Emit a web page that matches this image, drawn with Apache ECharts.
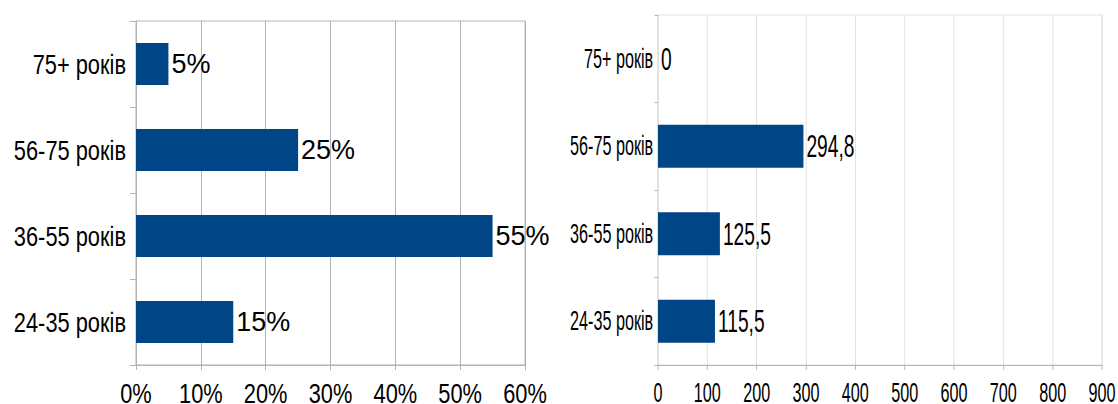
<!DOCTYPE html>
<html>
<head>
<meta charset="utf-8">
<script src="https://cdn.jsdelivr.net/npm/echarts@6/dist/echarts.min.js"></script>
<style>
  html, body { margin: 0; padding: 0; background: #fff; overflow: hidden; width: 1118px; height: 404px; }
  #left { position: absolute; left: 0; top: 0; width: 560px; height: 404px; }
  /* the second panel is a horizontally condensed picture */
  #right { position: absolute; left: 560px; top: 0; width: 930px; height: 404px; transform: scaleX(0.6); transform-origin: 0 0; }
</style>
</head>
<body>
<div id="left"></div>
<div id="right"></div>
<script>
// Age groups (bottom to top)
const ageGroups = ['24-35 років', '36-55 років', '56-75 років', '75+ років'];
// Share of respondents, %
const sharePercent = [15, 55, 25, 5];
// Amounts per age group
const amountValues = [115.5, 125.5, 294.8, 0];
// Tick values of the two value axes
const shareTicks = [0, 10, 20, 30, 40, 50, 60];
const amountTicks = [0, 100, 200, 300, 400, 500, 600, 700, 800, 900];

const FONT = "'Liberation Sans', Arial, sans-serif";
const BAR_COLOR = '#004586';

function commaDecimal(v) {
  return String(v).replace('.', ',');
}

function buildOption(cfg) {
  const ticks = cfg.ticks;
  return {
    animation: false,
    textStyle: { fontFamily: FONT },
    grid: {
      left: cfg.left, top: cfg.top, width: cfg.width, height: cfg.height,
      show: true, borderColor: cfg.gridColor, borderWidth: 1, backgroundColor: 'transparent',
      containLabel: false, outerBoundsMode: 'none'
    },
    xAxis: {
      type: 'value',
      min: ticks[0], max: ticks[ticks.length - 1], interval: ticks[1] - ticks[0],
      axisLine: { show: true, lineStyle: { color: cfg.axisColor, width: 1 } },
      axisTick: { show: true, length: 5, lineStyle: { color: cfg.axisColor } },
      splitLine: { show: true, lineStyle: { color: cfg.gridColor, width: 1 } },
      axisLabel: {
        show: cfg.nativeAxisLabels, color: '#000', fontFamily: FONT,
        fontSize: cfg.xFont, margin: cfg.xMargin, formatter: cfg.tickFormat
      }
    },
    yAxis: {
      type: 'category',
      data: ageGroups,
      axisLine: { show: true, lineStyle: { color: cfg.gridColor } },
      axisTick: { show: true, length: 6, lineStyle: { color: cfg.axisColor } },
      axisLabel: {
        show: cfg.nativeAxisLabels, color: '#000', fontFamily: FONT,
        fontSize: cfg.yFont, margin: cfg.yMargin
      }
    },
    series: [{
      type: 'bar',
      data: cfg.values,
      barWidth: '49%',
      itemStyle: { color: BAR_COLOR },
      label: {
        show: true, position: 'right', distance: cfg.labelDistance,
        color: '#000', fontFamily: FONT, fontSize: cfg.labelFont,
        formatter: cfg.labelFormat
      }
    }]
  };
}

// Left panel: share of each age group
const LEFT_GRID = { left: 136, top: 21, width: 389, height: 344 };
const leftChart = echarts.init(document.getElementById('left'), null, { renderer: 'svg' });
leftChart.setOption(buildOption(Object.assign({}, LEFT_GRID, {
  ticks: shareTicks, values: sharePercent,
  gridColor: '#b3b3b3', axisColor: '#b3b3b3',
  nativeAxisLabels: false,
  labelFont: 27, labelDistance: 3,
  tickFormat: v => v + '%',
  labelFormat: p => p.value + '%'
})));

// Axis texts of the left panel use a condensed face
const NARROW = 0.78;
const axisTextStyle = (text, align) => ({
  text: text, fill: '#000', fontSize: 28, fontFamily: FONT,
  align: align, textAlign: align, verticalAlign: 'middle', textVerticalAlign: 'middle'
});
const leftAxisTexts = [];
ageGroups.forEach(name => {
  leftAxisTexts.push({
    type: 'text', silent: true, scaleX: NARROW,
    x: LEFT_GRID.left - 10,
    y: leftChart.convertToPixel({ yAxisIndex: 0 }, name),
    style: axisTextStyle(name, 'right')
  });
});
const axisBottom = LEFT_GRID.top + LEFT_GRID.height;
shareTicks.forEach(v => {
  leftAxisTexts.push({
    type: 'text', silent: true, scaleX: NARROW,
    x: leftChart.convertToPixel({ xAxisIndex: 0 }, v),
    y: axisBottom + 28,
    style: axisTextStyle(v + '%', 'center')
  });
});
leftChart.setOption({ graphic: { elements: leftAxisTexts } });

// Right panel: amounts per age group
const rightChart = echarts.init(document.getElementById('right'), null, { renderer: 'svg' });
rightChart.setOption(buildOption({
  left: 163.3, top: 15, width: 740, height: 350,
  ticks: amountTicks, values: amountValues,
  gridColor: '#dadada', axisColor: '#a6a6a6',
  nativeAxisLabels: true,
  xFont: 27, yFont: 27, labelFont: 32, xMargin: 14, yMargin: 8, labelDistance: 5,
  tickFormat: v => commaDecimal(v),
  labelFormat: p => commaDecimal(p.value)
}));
</script>
</body>
</html>
